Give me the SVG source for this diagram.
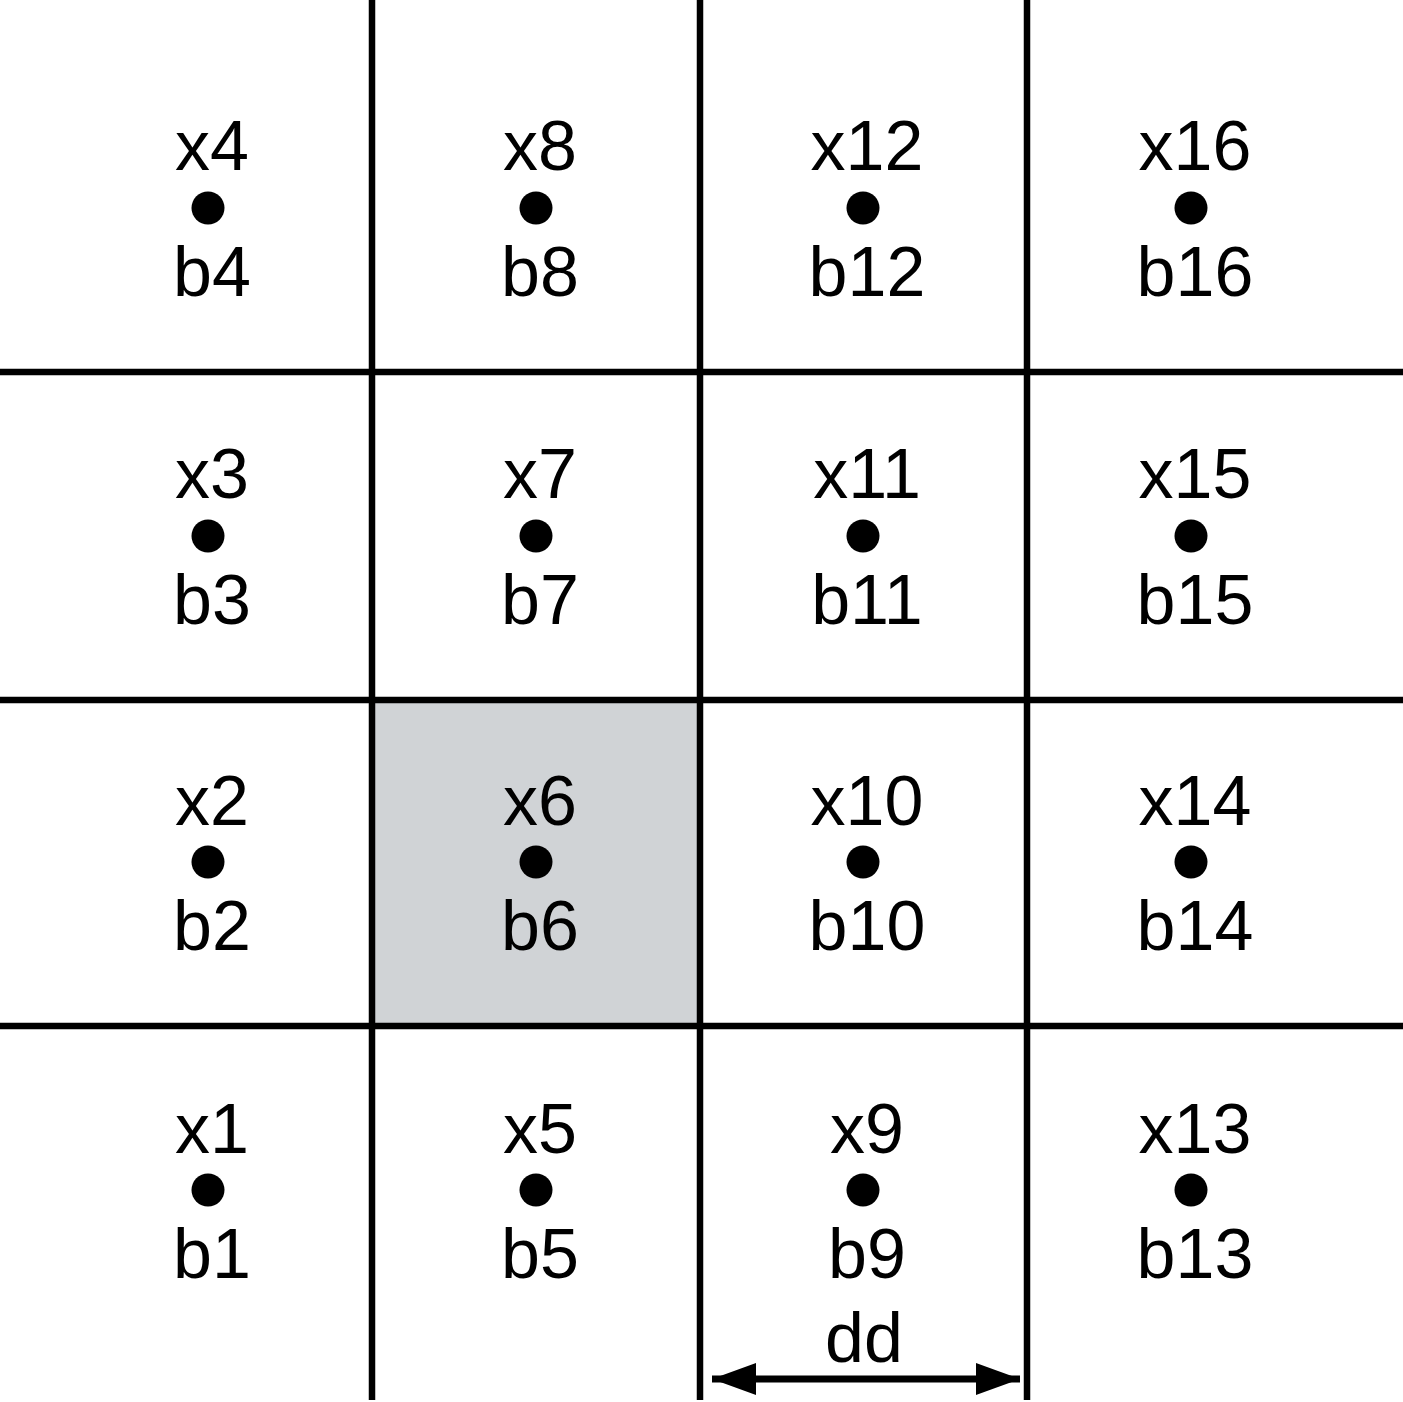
<svg xmlns="http://www.w3.org/2000/svg" width="1403" height="1402" viewBox="0 0 1403 1402">
<style>
.grid{stroke:#000;stroke-width:6.5;fill:none}
.lbl{font-family:"Liberation Sans",Arial,sans-serif;font-size:70px;fill:#000;text-anchor:middle}
.dot{fill:#000}
</style>
<defs>
<marker id="ah" viewBox="0 0 44 32" refX="44" refY="16" markerWidth="44" markerHeight="32" markerUnits="userSpaceOnUse" orient="auto-start-reverse">
<path d="M0,0 L44,16 L0,32 Z" fill="#000"/>
</marker>
</defs>
<rect width="1403" height="1402" fill="#fff"/>
<rect id="shade" x="372" y="700" width="327" height="326" fill="#d0d3d6"/>
<g id="connectors">
<line class="grid" x1="372" y1="0" x2="372" y2="1400"/>
<line class="grid" x1="700" y1="0" x2="700" y2="1400"/>
<line class="grid" x1="1027" y1="0" x2="1027" y2="1400"/>
<line class="grid" x1="0" y1="372" x2="1403" y2="372"/>
<line class="grid" x1="0" y1="700" x2="1403" y2="700"/>
<line class="grid" x1="0" y1="1026" x2="1403" y2="1026"/>
<line x1="712" y1="1379" x2="1020" y2="1379" stroke="#000" stroke-width="7" marker-start="url(#ah)" marker-end="url(#ah)"/>
</g>
<text class="lbl" x="864" y="1362">dd</text>
<g id="n4"><text class="lbl" x="212" y="170">x4</text><circle class="dot" cx="208" cy="208" r="16.5"/><text class="lbl" x="212" y="296">b4</text></g>
<g id="n8"><text class="lbl" x="540" y="170">x8</text><circle class="dot" cx="536" cy="208" r="16.5"/><text class="lbl" x="540" y="296">b8</text></g>
<g id="n12"><text class="lbl" x="867" y="170">x12</text><circle class="dot" cx="863" cy="208" r="16.5"/><text class="lbl" x="867" y="296">b12</text></g>
<g id="n16"><text class="lbl" x="1195" y="170">x16</text><circle class="dot" cx="1191" cy="208" r="16.5"/><text class="lbl" x="1195" y="296">b16</text></g>
<g id="n3"><text class="lbl" x="212" y="498">x3</text><circle class="dot" cx="208" cy="536" r="16.5"/><text class="lbl" x="212" y="624">b3</text></g>
<g id="n7"><text class="lbl" x="540" y="498">x7</text><circle class="dot" cx="536" cy="536" r="16.5"/><text class="lbl" x="540" y="624">b7</text></g>
<g id="n11"><text class="lbl" x="867" y="498">x11</text><circle class="dot" cx="863" cy="536" r="16.5"/><text class="lbl" x="867" y="624">b11</text></g>
<g id="n15"><text class="lbl" x="1195" y="498">x15</text><circle class="dot" cx="1191" cy="536" r="16.5"/><text class="lbl" x="1195" y="624">b15</text></g>
<g id="n2"><text class="lbl" x="212" y="825">x2</text><circle class="dot" cx="208" cy="862" r="16.5"/><text class="lbl" x="212" y="950">b2</text></g>
<g id="n6"><text class="lbl" x="540" y="825">x6</text><circle class="dot" cx="536" cy="862" r="16.5"/><text class="lbl" x="540" y="950">b6</text></g>
<g id="n10"><text class="lbl" x="867" y="825">x10</text><circle class="dot" cx="863" cy="862" r="16.5"/><text class="lbl" x="867" y="950">b10</text></g>
<g id="n14"><text class="lbl" x="1195" y="825">x14</text><circle class="dot" cx="1191" cy="862" r="16.5"/><text class="lbl" x="1195" y="950">b14</text></g>
<g id="n1"><text class="lbl" x="212" y="1153">x1</text><circle class="dot" cx="208" cy="1190" r="16.5"/><text class="lbl" x="212" y="1278">b1</text></g>
<g id="n5"><text class="lbl" x="540" y="1153">x5</text><circle class="dot" cx="536" cy="1190" r="16.5"/><text class="lbl" x="540" y="1278">b5</text></g>
<g id="n9"><text class="lbl" x="867" y="1153">x9</text><circle class="dot" cx="863" cy="1190" r="16.5"/><text class="lbl" x="867" y="1278">b9</text></g>
<g id="n13"><text class="lbl" x="1195" y="1153">x13</text><circle class="dot" cx="1191" cy="1190" r="16.5"/><text class="lbl" x="1195" y="1278">b13</text></g>
</svg>
